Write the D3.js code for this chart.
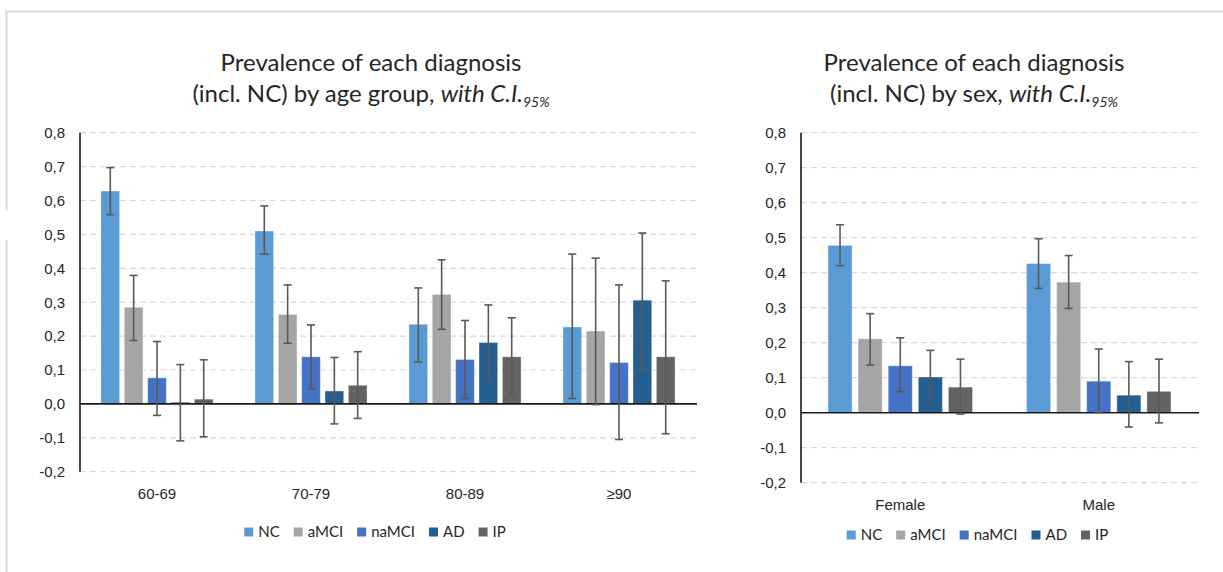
<!DOCTYPE html>
<html>
<head>
<meta charset="utf-8">
<script src="https://cdn.jsdelivr.net/npm/d3@7/dist/d3.min.js"></script>
<style>
  body { margin: 0; background: #fff; }
  svg { display: block; font-family: Lato, "Open Sans", sans-serif; }
</style>
</head>
<body>
<div id="chart"></div>
<script>
// --- data ---
const diagnoses = ["NC", "aMCI", "naMCI", "AD", "IP"];
const diagColors = ["#5b9bd5", "#a5a5a5", "#4472c4", "#255e91", "#636363"];
const yTicks = [-0.2, -0.1, 0, 0.1, 0.2, 0.3, 0.4, 0.5, 0.6, 0.7, 0.8];

// by age group (rows = diagnosis, cols = age group)
const ageGroups = ["60-69", "70-79", "80-89", "≥90"];
const ageMean = [
  [0.628, 0.510, 0.235, 0.227],
  [0.285, 0.264, 0.323, 0.215],
  [0.077, 0.139, 0.131, 0.122],
  [0.005, 0.038, 0.181, 0.306],
  [0.014, 0.055, 0.139, 0.139]
];
const ageLow = [
  [0.558, 0.442, 0.124, 0.016],
  [0.187, 0.179, 0.220, -0.002],
  [-0.034, 0.045, 0.016, -0.105],
  [-0.109, -0.059, 0.065, 0.104],
  [-0.097, -0.043, 0.025, -0.088]
];
const ageHigh = [
  [0.697, 0.584, 0.342, 0.442],
  [0.379, 0.351, 0.425, 0.430],
  [0.184, 0.233, 0.246, 0.351],
  [0.116, 0.137, 0.292, 0.504],
  [0.130, 0.154, 0.254, 0.363]
];

// by sex
const sexes = ["Female", "Male"];
const sexMean = [
  [0.478, 0.426],
  [0.211, 0.373],
  [0.134, 0.090],
  [0.102, 0.050],
  [0.073, 0.061]
];
const sexLow = [
  [0.420, 0.355],
  [0.136, 0.298],
  [0.060, 0.000],
  [0.024, -0.041],
  [-0.004, -0.029]
];
const sexHigh = [
  [0.537, 0.497],
  [0.283, 0.449],
  [0.214, 0.182],
  [0.178, 0.146],
  [0.153, 0.153]
];

// --- drawing ---
const W = 1223, H = 572;
const svg = d3.select("#chart").append("svg")
  .attr("width", W).attr("height", H);

// outer frame remnants
svg.append("line").attr("x1", 5).attr("x2", W).attr("y1", 11.5).attr("y2", 11.5)
  .attr("stroke", "#d9d9d9").attr("stroke-width", 2);
svg.append("line").attr("x1", 6.5).attr("x2", 6.5).attr("y1", 11).attr("y2", 210)
  .attr("stroke", "#d9d9d9").attr("stroke-width", 2);
svg.append("line").attr("x1", 6.5).attr("x2", 6.5).attr("y1", 240).attr("y2", H)
  .attr("stroke", "#d9d9d9").attr("stroke-width", 2);

const locale = d3.formatLocale({decimal: ",", thousands: ".", grouping: [3], currency: ["", ""], minus: "-"});
const fmt = locale.format(".1f");

function drawPanel(cfg) {
  const g = svg.append("g");

  // title
  const title = g.append("text")
    .attr("text-anchor", "middle")
    .attr("fill", "#262626")
    .style("font-size", "24px");
  title.append("tspan").attr("x", cfg.titleX).attr("y", 71).text("Prevalence of each diagnosis");
  const l2 = title.append("tspan").attr("x", cfg.titleX).attr("y", 102);
  l2.append("tspan").text(cfg.subtitle);
  l2.append("tspan").style("font-style", "italic").text("with C.I.");
  l2.append("tspan").style("font-style", "italic").style("font-size", "14px")
    .attr("dy", 5).text("95%");

  const y = d3.scaleLinear().domain([-0.2, 0.8]).range([cfg.yBottom, cfg.yTop]);
  const x = d3.scaleBand().domain(cfg.categories).range([cfg.x0, cfg.x1]);
  const bw = x.bandwidth();
  const xs = d3.scaleBand().domain(diagnoses)
    .range([bw * 0.136, bw * 0.864]).paddingInner(0.2);

  // gridlines
  g.append("g").selectAll("line")
    .data(yTicks.filter(d => d !== 0))
    .join("line")
    .attr("x1", cfg.x0).attr("x2", cfg.x1)
    .attr("y1", d => y(d)).attr("y2", d => y(d))
    .attr("stroke", "#d9d9d9").attr("stroke-width", 1.2)
    .attr("stroke-dasharray", "6,4");

  // y axis
  const yAxis = g.append("g")
    .attr("transform", `translate(${cfg.x0},0)`)
    .call(d3.axisLeft(y).tickValues(yTicks).tickFormat(fmt).tickSize(0).tickPadding(15));
  yAxis.select(".domain").remove();
  yAxis.selectAll("text").style("font-size", "15px").attr("fill", "#262626");

  // x axis labels
  const xAxis = g.append("g")
    .attr("transform", `translate(0,${cfg.yBottom})`)
    .call(d3.axisBottom(x).tickSize(0).tickPadding(17));
  xAxis.select(".domain").remove();
  xAxis.selectAll("text").style("font-size", "15px").attr("fill", "#262626");

  // bars
  const rows = [];
  cfg.categories.forEach((c, ci) => {
    diagnoses.forEach((d, di) => {
      rows.push({cat: c, diag: d, color: diagColors[di],
        v: cfg.mean[di][ci], lo: cfg.low[di][ci], hi: cfg.high[di][ci]});
    });
  });

  g.append("g").selectAll("rect")
    .data(rows)
    .join("rect")
    .attr("x", d => x(d.cat) + xs(d.diag))
    .attr("width", xs.bandwidth())
    .attr("y", d => y(Math.max(0, d.v)))
    .attr("height", d => Math.abs(y(d.v) - y(0)))
    .attr("fill", d => d.color)
    .attr("stroke", "#fff").attr("stroke-opacity", 0.35).attr("stroke-width", 1);

  // zero line + y axis line
  g.append("line")
    .attr("x1", cfg.x0).attr("x2", cfg.x1 + 1)
    .attr("y1", y(0)).attr("y2", y(0))
    .attr("stroke", "#1a1a1a").attr("stroke-width", 1.6);
  g.append("line")
    .attr("x1", cfg.x0).attr("x2", cfg.x0)
    .attr("y1", y(0.8)).attr("y2", y(-0.2))
    .attr("stroke", "#1a1a1a").attr("stroke-width", 1.6);

  // error bars
  const eb = g.append("g").attr("stroke", "#595959").attr("stroke-width", 1.6);
  const cx = d => x(d.cat) + xs(d.diag) + xs.bandwidth() / 2;
  eb.selectAll("line.v").data(rows).join("line").attr("class", "v")
    .attr("x1", cx).attr("x2", cx)
    .attr("y1", d => y(d.lo)).attr("y2", d => y(d.hi));
  eb.selectAll("line.t").data(rows).join("line").attr("class", "t")
    .attr("x1", d => cx(d) - 4).attr("x2", d => cx(d) + 4)
    .attr("y1", d => y(d.hi)).attr("y2", d => y(d.hi));
  eb.selectAll("line.b").data(rows).join("line").attr("class", "b")
    .attr("x1", d => cx(d) - 4).attr("x2", d => cx(d) + 4)
    .attr("y1", d => y(d.lo)).attr("y2", d => y(d.lo));

  // legend
  const leg = g.append("g");
  let off = 0;
  diagnoses.forEach((d, i) => {
    const item = leg.append("g").attr("transform", `translate(${off},0)`);
    item.append("rect").attr("x", 0).attr("y", -4.5).attr("width", 9).attr("height", 9)
      .attr("fill", diagColors[i]);
    const t = item.append("text").attr("x", 14).attr("y", 0).attr("dy", "0.35em")
      .style("font-size", "15px").attr("fill", "#262626").text(d);
    off += 14 + t.node().getComputedTextLength() + 14;
  });
  const legW = off - 14;
  leg.attr("transform", `translate(${cfg.legendX - legW / 2},${cfg.legendY})`);
}

drawPanel({
  categories: ageGroups, mean: ageMean, low: ageLow, high: ageHigh,
  subtitle: "(incl. NC) by age group, ",
  x0: 80, x1: 696, yTop: 132.7, yBottom: 471.7,
  titleX: 371, legendX: 375, legendY: 532
});

drawPanel({
  categories: sexes, mean: sexMean, low: sexLow, high: sexHigh,
  subtitle: "(incl. NC) by sex, ",
  x0: 801, x1: 1198, yTop: 132.7, yBottom: 482.7,
  titleX: 974, legendX: 977.5, legendY: 535
});
</script>
</body>
</html>
